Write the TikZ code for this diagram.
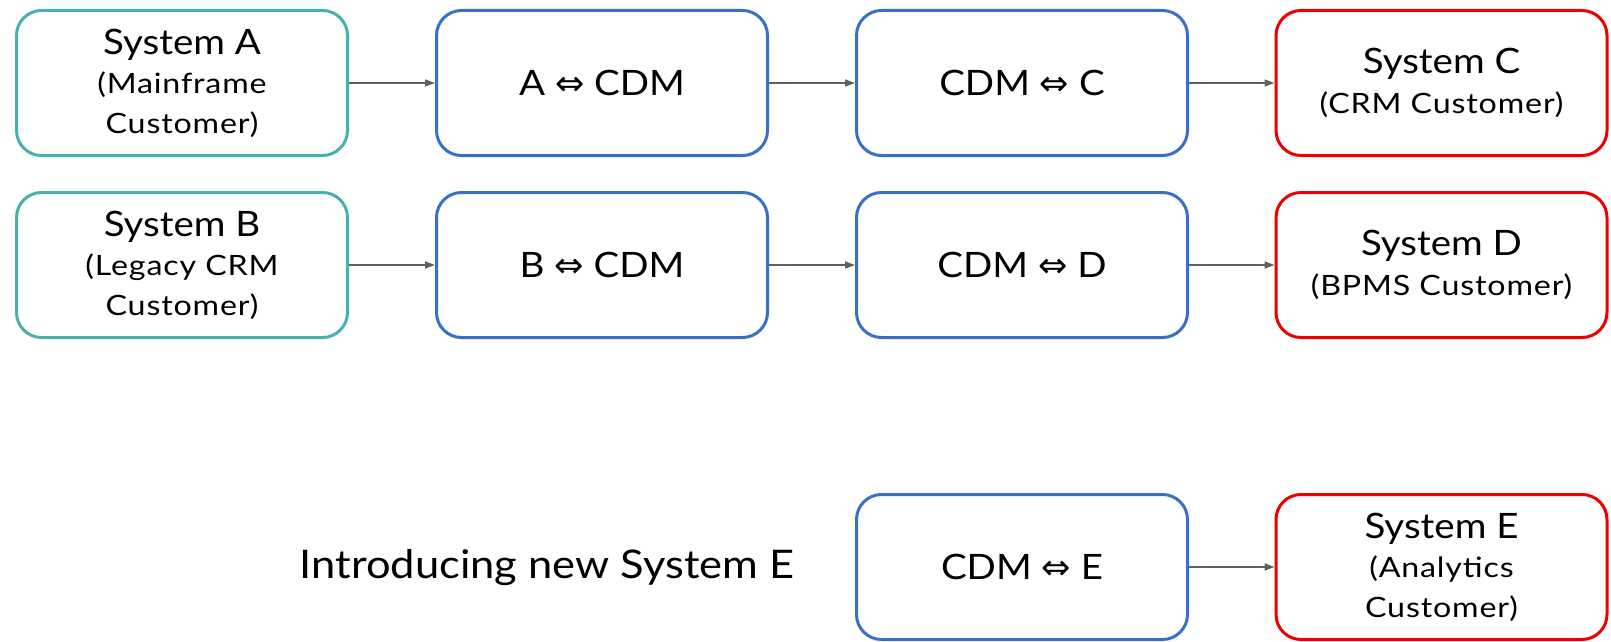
\documentclass[tikz,border=0pt]{standalone}
\usepackage{fontspec}
\setmainfont{Lato}[FakeStretch=1.1]
\newfontfamily\subf{Lato}[FakeStretch=1.15,LetterSpace=3]
\newfontfamily\symf{DejaVu Sans}
\usetikzlibrary{arrows.meta}
\definecolor{tealc}{RGB}{74,176,174}
\definecolor{bluec}{RGB}{56,112,200}
\definecolor{redc}{RGB}{238,0,0}
\definecolor{arrowc}{RGB}{96,96,96}
\newcommand{\lr}{{\symf\char"21D4}}
\newcommand{\bigt}[1]{{\rmfamily\fontsize{35}{37}\selectfont #1}}
\begin{document}
\begin{tikzpicture}[x=1pt,y=-1pt,
  box/.style={rectangle, rounded corners=25pt, line width=3pt, minimum width=331pt, minimum height=145pt, align=center, inner sep=0pt, font={\subf\fontsize{28}{39.5}\selectfont}},
  src/.style={box, draw=tealc},
  mid/.style={box, draw=bluec},
  dst/.style={box, draw=redc},
  conn/.style={draw=arrowc, line width=1.5pt, -{Triangle[length=10pt,width=7pt]}}]
\useasboundingbox (0,0) rectangle (1611,642);
\node[src] (A) at (182,83) {\bigt{System A}\\(Mainframe\\Customer)};
\node[mid] (AC) at (602,83) {\bigt{A \lr{} CDM}};
\node[mid] (CC) at (1022,83) {\bigt{CDM \lr{} C}};
\node[dst] (C) at (1441.5,83) {\bigt{System C}\\(CRM Customer)};
\node[src] (B) at (182,265) {\bigt{System B}\\(Legacy CRM\\Customer)};
\node[mid] (BC) at (602,265) {\bigt{B \lr{} CDM}};
\node[mid] (CD) at (1022,265) {\bigt{CDM \lr{} D}};
\node[dst] (D) at (1441.5,265) {\bigt{System D}\\(BPMS Customer)};
\node[mid] (CE) at (1022,567) {\bigt{CDM \lr{} E}};
\node[dst] (E) at (1441.5,567) {\bigt{System E}\\(Analytics\\Customer)};
\node[font={\fontsize{39.5}{44}\selectfont}] (intro) at (547,568) {Introducing new System E};
\draw[conn] (A) -- (AC);
\draw[conn] (AC) -- (CC);
\draw[conn] (CC) -- (C);
\draw[conn] (B) -- (BC);
\draw[conn] (BC) -- (CD);
\draw[conn] (CD) -- (D);
\draw[conn] (CE) -- (E);
\end{tikzpicture}
\end{document}
